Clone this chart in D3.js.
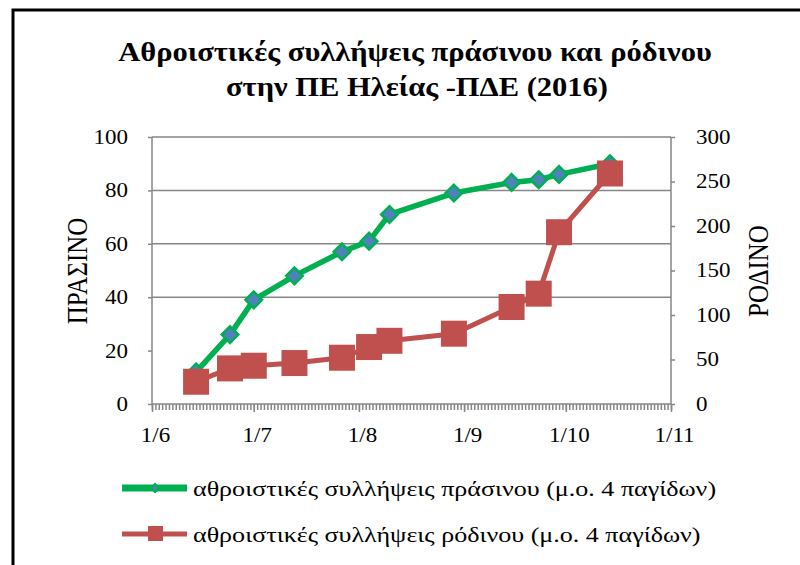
<!DOCTYPE html>
<html>
<head>
<meta charset="utf-8">
<script src="https://cdn.jsdelivr.net/npm/d3@7"></script>
<style>
  body { margin: 0; background: #fff; }
  svg text { font-family: 'Liberation Serif', 'DejaVu Serif', serif; fill: #000; }
</style>
</head>
<body>
<div class="chart"></div>
<script>
var w = 800,
  h = 565;

// sampling dates (d/m, 2016)
var dates = ['2016-06-14', '2016-06-24', '2016-07-01', '2016-07-13', '2016-07-27', '2016-08-04',
  '2016-08-10', '2016-08-29', '2016-09-15', '2016-09-23', '2016-09-29', '2016-10-14'];
// cumulative catches, mean of 4 traps
var green = [12, 26, 39, 48, 57, 61, 71, 79, 83, 84, 86, 90];
var red = [25, 40, 43, 46, 52, 64, 71, 79, 109, 124, 193, 259];

var leftTicks = [0, 20, 40, 60, 80, 100];
var rightTicks = [0, 50, 100, 150, 200, 250, 300];
var gridTicks = [40, 60, 80];
var monthTicks = ['2016-06-01', '2016-07-01', '2016-08-01', '2016-09-01', '2016-10-01', '2016-11-01'];

var seriesNames = ['αθροιστικές συλλήψεις πράσινου (μ.ο. 4 παγίδων)',
  'αθροιστικές συλλήψεις ρόδινου (μ.ο. 4 παγίδων)'];

var parse = d3.utcParse('%Y-%m-%d');
var fmt = d3.utcFormat('%-d/%-m');

var greenData = dates.map((d, i) => ({ date: parse(d), v: green[i] }));
var redData = dates.map((d, i) => ({ date: parse(d), v: red[i] }));

var plot = { left: 152, right: 671, top: 137, bottom: 404 };
var gray = '#868686';
var serif = "'Liberation Serif', 'DejaVu Serif', serif";

// the original picture is a bit wider than tall, so text is stretched sideways
function stretch(sel, k) {
  sel.each(function () {
    var len = this.getComputedTextLength();
    d3.select(this).attr('textLength', len * k).attr('lengthAdjust', 'spacingAndGlyphs');
  });
}

var x = d3.scaleUtc()
  .domain([parse(monthTicks[0]), parse(monthTicks[monthTicks.length - 1])])
  .range([plot.left, plot.right]);
var yL = d3.scaleLinear().domain([0, 100]).range([plot.bottom, plot.top]);
var yR = d3.scaleLinear().domain([0, 300]).range([plot.bottom, plot.top]);

var svg = d3.select('.chart')
  .append('svg')
  .attr('width', w)
  .attr('height', h);

svg.append('rect').attr('width', w).attr('height', h).attr('fill', '#fff');

// outer frame (right and bottom run off the picture)
svg.append('rect')
  .attr('x', 13).attr('y', 10)
  .attr('width', 800).attr('height', 600)
  .attr('fill', 'none').attr('stroke', '#000').attr('stroke-width', 3);

// title
var title = svg.append('text')
  .attr('text-anchor', 'middle')
  .attr('font-family', serif)
  .attr('font-weight', 'bold')
  .attr('font-size', '27px');
title.append('tspan').attr('x', 415).attr('y', 61).text('Αθροιστικές συλλήψεις πράσινου και ρόδινου');
title.append('tspan').attr('x', 417).attr('y', 96).text('στην ΠΕ Ηλείας -ΠΔΕ (2016)');
stretch(title.selectAll('tspan'), 1.13);

// gridlines
svg.selectAll('line.grid')
  .data(gridTicks)
  .enter()
  .append('line')
  .attr('class', 'grid')
  .attr('x1', plot.left).attr('x2', plot.right)
  .attr('y1', d => yL(d)).attr('y2', d => yL(d))
  .attr('stroke', gray).attr('stroke-width', 1.5);

// plot border top
svg.append('line')
  .attr('x1', plot.left).attr('x2', plot.right)
  .attr('y1', plot.top).attr('y2', plot.top)
  .attr('stroke', gray).attr('stroke-width', 1.5);

// axes
var xAxis = svg.append('g')
  .attr('transform', 'translate(0,' + plot.bottom + ')')
  .call(d3.axisBottom(x).ticks(d3.utcDay.every(1)).tickSize(6).tickFormat(''));
var xLabels = svg.append('g')
  .attr('transform', 'translate(0,' + plot.bottom + ')')
  .call(d3.axisBottom(x).tickValues(monthTicks.map(parse)).tickSize(8).tickPadding(16).tickFormat(fmt));

var leftAxis = svg.append('g')
  .attr('transform', 'translate(' + plot.left + ',0)')
  .call(d3.axisLeft(yL).tickValues(leftTicks).tickSize(4).tickPadding(20));
var rightAxis = svg.append('g')
  .attr('transform', 'translate(' + plot.right + ',0)')
  .call(d3.axisRight(yR).tickValues(rightTicks).tickSize(4).tickPadding(21));

[xAxis, xLabels, leftAxis, rightAxis].forEach(function (g) {
  g.selectAll('.domain').attr('stroke', gray).attr('stroke-width', 1.5);
  g.selectAll('.tick line').attr('stroke', gray).attr('stroke-width', 1.5);
  g.selectAll('text').attr('font-size', '20px').attr('font-family', serif).attr('fill', '#000');
  stretch(g.selectAll('text'), 1.15);
});
xAxis.select('.domain').attr('d', 'M' + plot.left + ',0H' + plot.right);
xLabels.select('.domain').remove();
leftAxis.select('.domain').attr('d', 'M0,' + plot.bottom + 'V' + plot.top);
rightAxis.select('.domain').attr('d', 'M0,' + plot.bottom + 'V' + plot.top);
xLabels.selectAll('text').attr('dy', '0.71em').attr('dx', 3);

// axis titles (baseline on the right after rotating)
svg.append('text')
  .attr('transform', 'translate(87,271) rotate(-90) scale(1,1.2)')
  .attr('text-anchor', 'middle')
  .attr('font-family', serif)
  .attr('font-size', '25px')
  .text('ΠΡΑΣΙΝΟ');
svg.append('text')
  .attr('transform', 'translate(768,271) rotate(-90) scale(1,1.2)')
  .attr('text-anchor', 'middle')
  .attr('font-family', serif)
  .attr('font-size', '25px')
  .text('ΡΟΔΙΝΟ');

// lines
var greenLine = d3.line().x(d => x(d.date)).y(d => yL(d.v));
var redLine = d3.line().x(d => x(d.date)).y(d => yR(d.v));

svg.append('path')
  .datum(greenData)
  .attr('d', greenLine)
  .attr('fill', 'none')
  .attr('stroke', '#00B050')
  .attr('stroke-width', 5.5)
  .attr('stroke-linejoin', 'round');

var diamond = d3.symbol().type(d3.symbolDiamond2).size(175);
svg.selectAll('path.gmark')
  .data(greenData)
  .enter()
  .append('path')
  .attr('class', 'gmark')
  .attr('transform', d => 'translate(' + x(d.date) + ',' + yL(d.v) + ')')
  .attr('d', diamond)
  .attr('fill', '#4F81BD')
  .attr('stroke', '#00B050')
  .attr('stroke-width', 2.5);

svg.append('path')
  .datum(redData)
  .attr('d', redLine)
  .attr('fill', 'none')
  .attr('stroke', '#C0504D')
  .attr('stroke-width', 5)
  .attr('stroke-linejoin', 'round');

var sq = 26;
svg.selectAll('rect.rmark')
  .data(redData)
  .enter()
  .append('rect')
  .attr('class', 'rmark')
  .attr('x', d => x(d.date) - sq / 2)
  .attr('y', d => yR(d.v) - sq / 2)
  .attr('width', sq).attr('height', sq)
  .attr('fill', '#C0504D');

// legend
var legend = svg.selectAll('g.legend')
  .data(seriesNames)
  .enter()
  .append('g')
  .attr('class', 'legend')
  .attr('transform', (d, i) => 'translate(122,' + (488 + i * 46) + ')');

legend.append('line')
  .attr('x1', 0).attr('x2', 65)
  .attr('stroke', (d, i) => i === 0 ? '#00B050' : '#C0504D')
  .attr('stroke-width', (d, i) => i === 0 ? 7 : 5);
legend.filter((d, i) => i === 0)
  .append('path')
  .attr('transform', 'translate(33,0)')
  .attr('d', d3.symbol().type(d3.symbolDiamond2).size(40))
  .attr('fill', '#4F81BD')
  .attr('stroke', '#00B050')
  .attr('stroke-width', 2);
legend.filter((d, i) => i === 1)
  .append('rect')
  .attr('x', 26).attr('y', -8)
  .attr('width', 15).attr('height', 15)
  .attr('fill', '#C0504D');
var legendText = legend.append('text')
  .attr('x', 71)
  .attr('y', 8)
  .attr('font-family', serif)
  .attr('font-size', '21px')
  .text(d => d);
stretch(legendText, 1.24);
</script>
</body>
</html>
